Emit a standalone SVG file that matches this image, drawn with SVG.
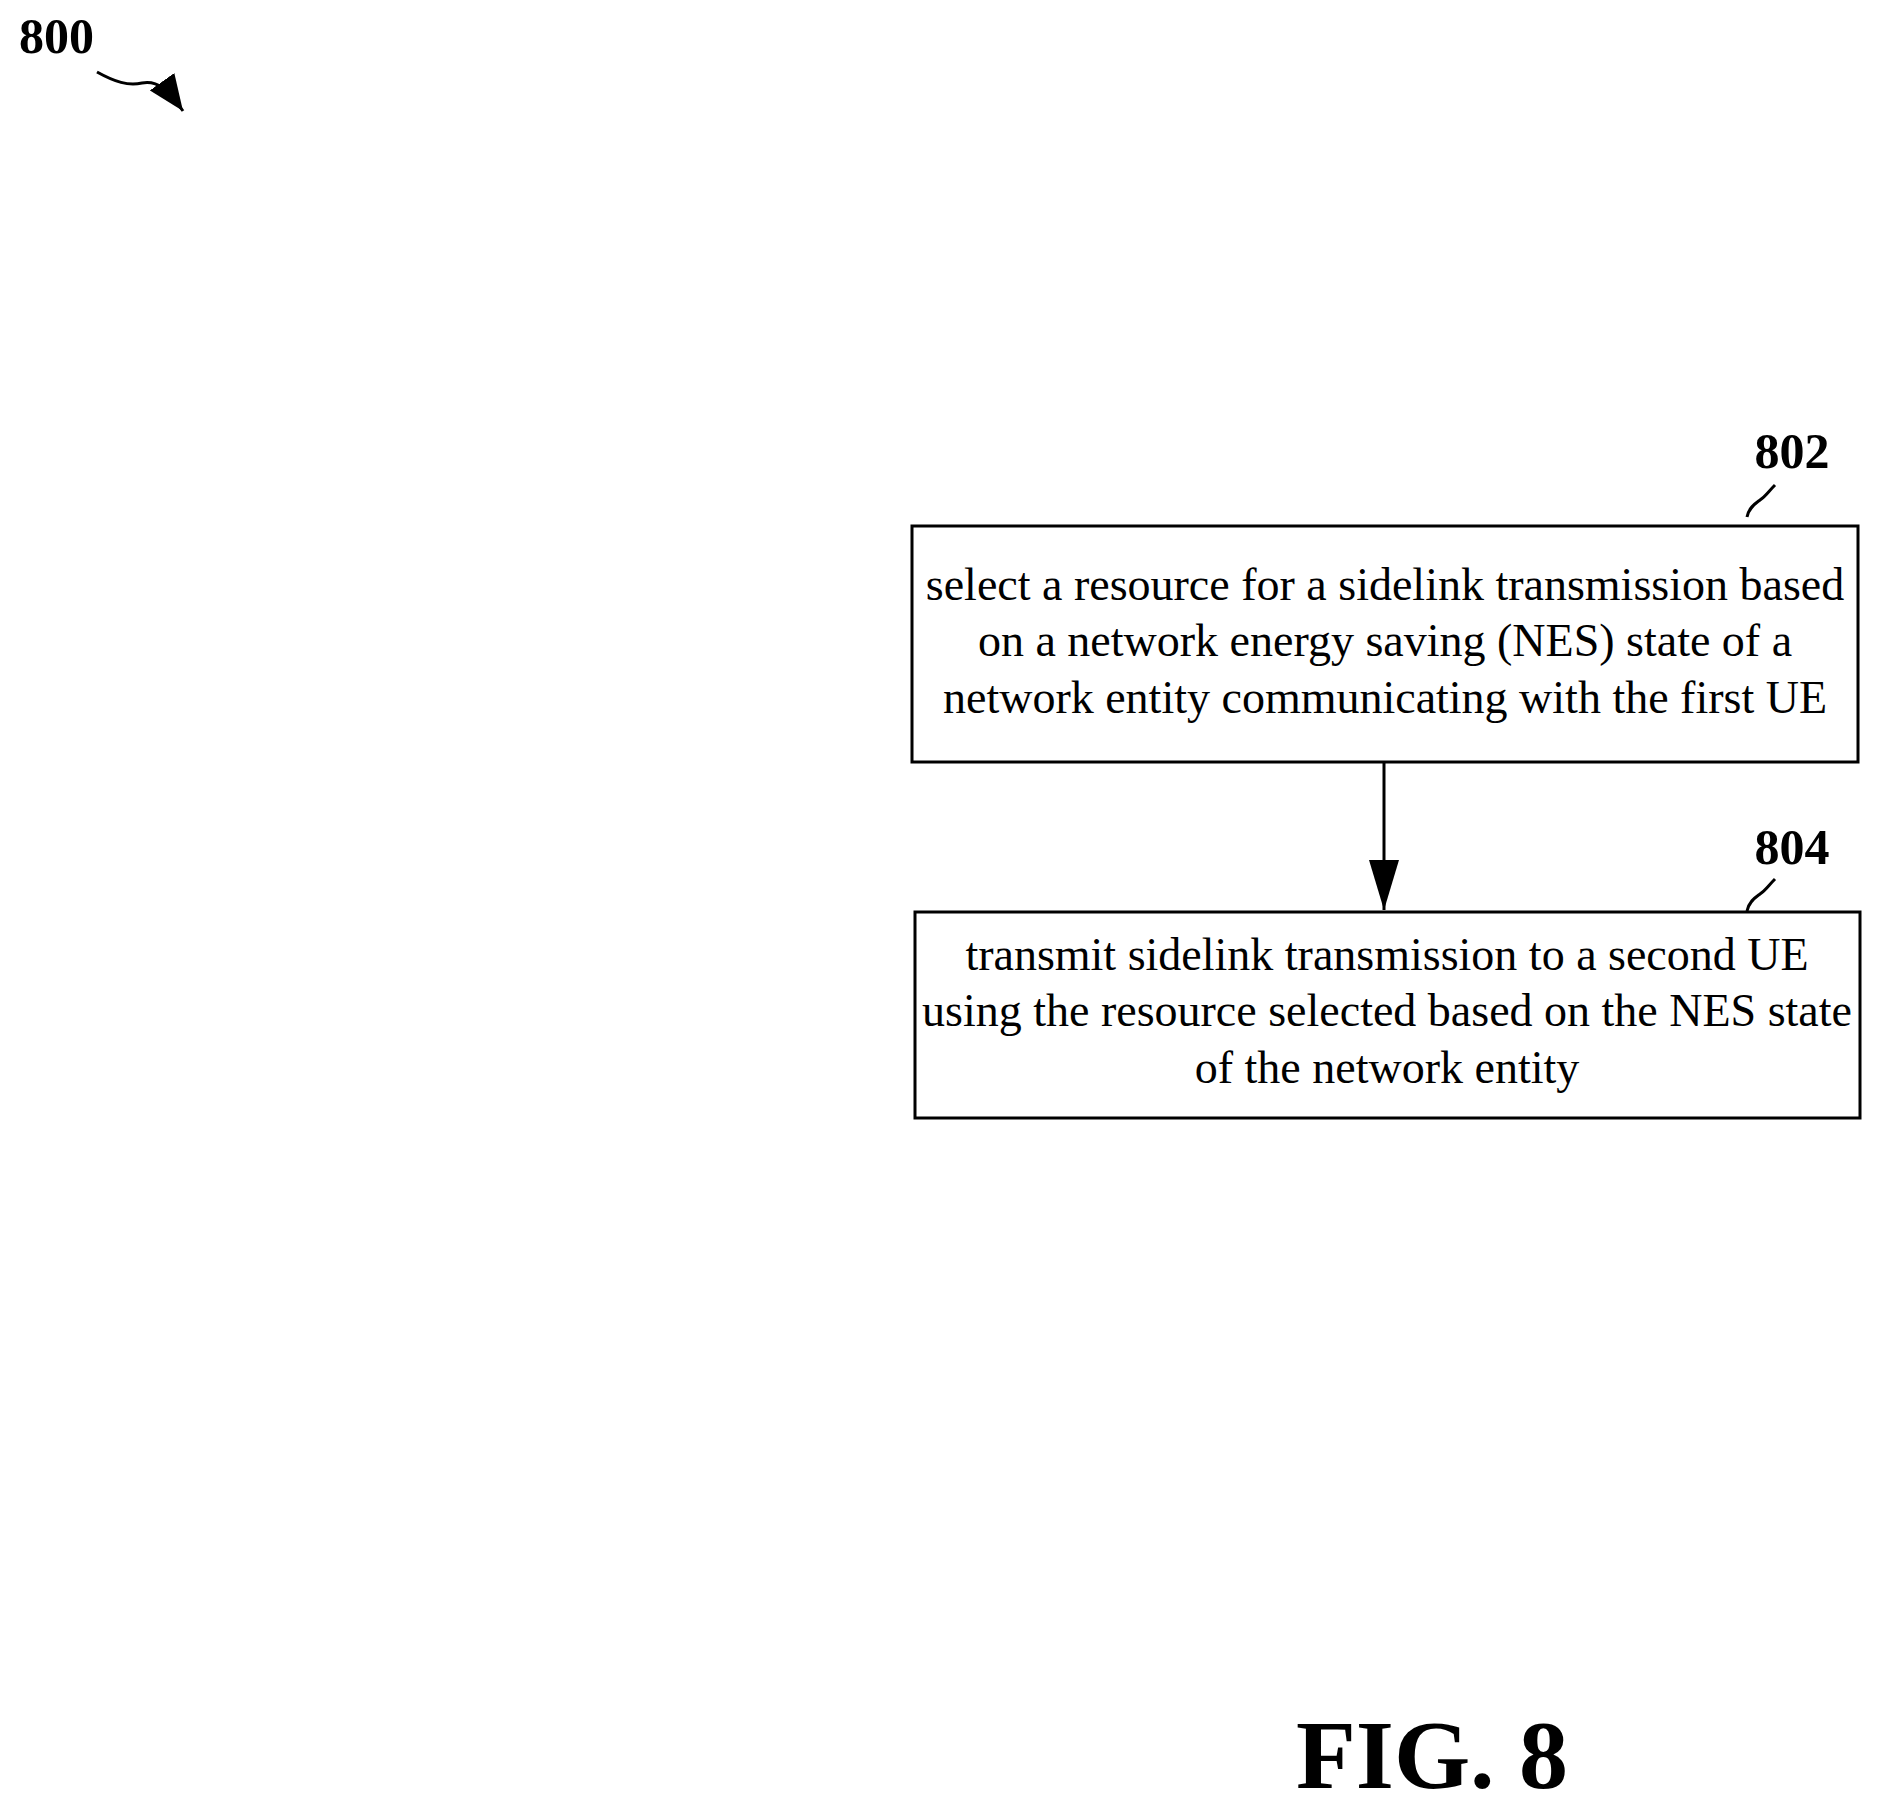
<svg xmlns="http://www.w3.org/2000/svg" width="1883" height="1811" viewBox="0 0 1883 1811">
<style>
.box{fill:#fff;stroke:#000;stroke-width:3}
.t{font-family:"Liberation Serif",serif;font-size:46px;text-anchor:middle}
.lb{font-family:"Liberation Serif",serif;font-size:50px;font-weight:bold}
.sq{fill:none;stroke:#000;stroke-width:3}
</style>
<defs>
<marker id="ah2" viewBox="0 0 10 10" refX="10" refY="5" markerWidth="36" markerHeight="30" markerUnits="userSpaceOnUse" orient="auto" preserveAspectRatio="none"><path d="M0,0 L10,5 L0,10z"/></marker>
<marker id="ah3" viewBox="0 0 10 10" refX="10" refY="5" markerWidth="50" markerHeight="30" markerUnits="userSpaceOnUse" orient="auto" preserveAspectRatio="none"><path d="M0,0 L10,5 L0,10z"/></marker></defs>
<rect width="1883" height="1811" fill="#fff"/>
<g id="title"><text class="lb" x="19" y="53">800</text>
<path class="sq" d="M97,72 C115,82 128,86 142,83 C158,80 168,90 183,111" marker-end="url(#ah2)"/></g>
<g id="n802"><rect class="box" x="912" y="526" width="946" height="236"/>
<text class="t" x="1385" y="600">select a resource for a sidelink transmission based</text>
<text class="t" x="1385" y="656">on a network energy saving (NES) state of a</text>
<text class="t" x="1385" y="713">network entity communicating with the first UE</text>
<text class="lb" x="1792" y="468" text-anchor="middle">802</text>
<path class="sq" d="M1747,517 C1749,507 1756,503 1760,500 C1766,496 1768,492 1775,485"/></g>
<g id="n804"><rect class="box" x="915" y="912" width="945" height="206"/>
<text class="t" x="1387" y="970">transmit sidelink transmission to a second UE</text>
<text class="t" x="1387" y="1026">using the resource selected based on the NES state</text>
<text class="t" x="1387" y="1083">of the network entity</text>
<text class="lb" x="1792" y="864" text-anchor="middle">804</text>
<path class="sq" d="M1747,911 C1749,901 1756,897 1760,894 C1766,890 1768,886 1775,879"/></g>
<g id="connectors"><line x1="1384" y1="762" x2="1384" y2="910" stroke="#000" stroke-width="3" marker-end="url(#ah3)"/></g>
<text x="1432" y="1788" text-anchor="middle" style="font-family:'Liberation Serif',serif;font-size:98px;font-weight:bold">FIG. 8</text>
</svg>
